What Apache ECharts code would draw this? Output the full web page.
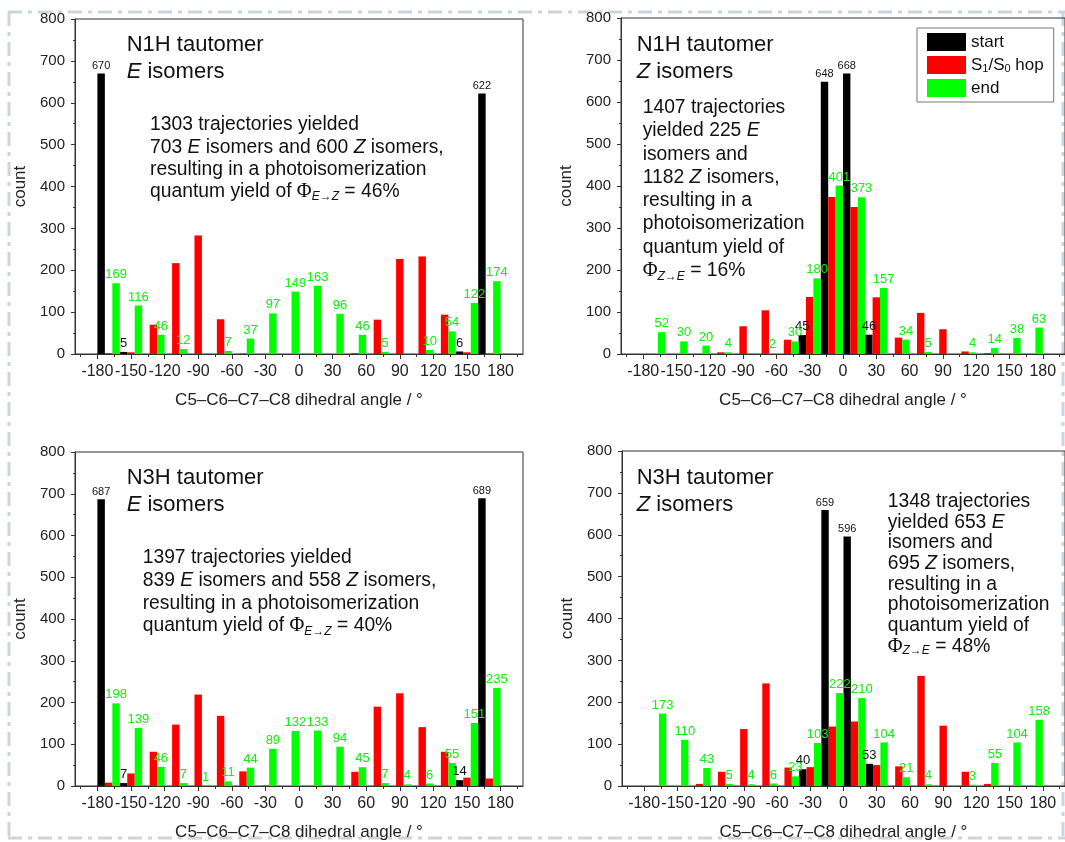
<!DOCTYPE html>
<html><head><meta charset="utf-8">
<script src="https://cdn.jsdelivr.net/npm/echarts@6/dist/echarts.min.js"></script>
<style>html,body{margin:0;padding:0;background:#fff}#c{width:1065px;height:842px}</style>
</head><body><div id="c"></div>
<script>
// ---- data ----
const binCenters = [-170,-150,-130,-110,-90,-70,-50,-30,-10,10,30,50,70,90,110,130,150,170];
const xTickLabels = [-180,-150,-120,-90,-60,-30,0,30,60,90,120,150,180];
const xMinorTicks = [-195,-165,-135,-105,-75,-45,-15,15,45,75,105,135,165,195];
const seriesNames = ['start','S1/S0 hop','end'];

const n1hE_start = [670,5,0,0,0,0,0,0,0,0,0,0,0,0,0,0,6,622];
const n1hE_hop   = [2,4,70,217,283,83,1,0,0,0,0,2,82,227,233,94,4,1];
const n1hE_end   = [169,116,46,12,0,7,37,97,149,163,96,46,5,0,10,54,122,174];

const n1hZ_start = [0,0,0,0,0,0,0,45,648,668,46,0,0,0,0,0,0,0];
const n1hZ_hop   = [0,0,0,4,66,104,34,136,374,350,135,39,98,59,6,2,0,0];
const n1hZ_end   = [52,30,20,4,0,2,30,180,401,373,157,34,5,0,4,14,38,63];

const n3hE_start = [687,7,0,0,0,0,0,0,0,0,0,0,0,0,0,0,14,689];
const n3hE_hop   = [8,30,82,147,219,168,35,1,0,0,0,34,190,222,141,82,20,18];
const n3hE_end   = [198,139,46,7,1,11,44,89,132,133,94,45,7,4,6,55,151,235];

const n3hZ_start = [0,0,0,0,0,0,0,40,659,596,53,0,0,0,0,0,0,0];
const n3hZ_hop   = [0,0,5,34,136,245,44,45,142,154,50,47,263,144,34,5,0,0];
const n3hZ_end   = [173,110,43,5,4,6,23,103,222,210,104,21,4,0,3,55,104,158];

const panelData = [
  [n1hE_start, n1hE_hop, n1hE_end],
  [n1hZ_start, n1hZ_hop, n1hZ_end],
  [n3hE_start, n3hE_hop, n3hE_end],
  [n3hZ_start, n3hZ_hop, n3hZ_end]
];

// ---- layout / style ----
const FONT = 'Liberation Sans, Arial, Helvetica, sans-serif';
const colors = ['#000000','#ff0000','#00ff00'];
const labelColors = ['#111111', null, '#11ee11'];
const grids = [
  {left:75,  top:19,  width:448, height:335},
  {left:621, top:18,  width:448, height:336},
  {left:75,  top:452, width:448, height:336},
  {left:622, top:451, width:448, height:337}
];

const axisColor = '#333';
const xAxes = [], yAxes = [], series = [];
grids.forEach((g, i) => {
  xAxes.push({
    type:'value', gridIndex:i, min:-200, max:200, position:'bottom',
    axisLine:{show:true, onZero:false, lineStyle:{color:axisColor, width:1}},
    axisTick:{show:true, customValues:xTickLabels, length:5, inside:false, lineStyle:{color:axisColor}},
    axisLabel:{show:true, customValues:xTickLabels, fontSize:16, color:'#222', margin:10, fontFamily:FONT},
    splitLine:{show:false},
    name:'C5–C6–C7–C8 dihedral angle / °', nameLocation:'middle', nameGap:38,
    nameTextStyle:{fontSize:17, color:'#222', fontFamily:FONT}
  });
  xAxes.push({
    type:'value', gridIndex:i, min:-200, max:200, position:'bottom',
    axisLine:{show:false, onZero:false},
    axisTick:{show:true, customValues:xMinorTicks, length:3, inside:false, lineStyle:{color:axisColor}},
    axisLabel:{show:false},
    splitLine:{show:false}
  });
  yAxes.push({
    type:'value', gridIndex:i, min:0, max:800, interval:100, position:'left',
    axisLine:{show:true, onZero:false, lineStyle:{color:axisColor, width:1}},
    axisTick:{show:true, length:4, lineStyle:{color:axisColor}},
    minorTick:{show:true, splitNumber:2, length:2, lineStyle:{color:axisColor}},
    axisLabel:{fontSize:15, color:'#222', margin:10, fontFamily:FONT},
    splitLine:{show:false}, minorSplitLine:{show:false},
    name:'count', nameLocation:'middle', nameGap:46, nameRotate:90,
    nameTextStyle:{fontSize:17, color:'#222', fontFamily:FONT}
  });
  panelData[i].forEach((vals, s) => {
    series.push({
      type:'bar', name:seriesNames[s], xAxisIndex:2*i, yAxisIndex:i,
      barGap:'0%', barCategoryGap:'0%',
      itemStyle:{color:colors[s]},
      data: vals.map((v,k) => ({
        value:[binCenters[k], v],
        label: s === 0 ? {fontSize: v >= 100 ? 11 : 13} : {}
      })),
      label:{
        show: s !== 1, position:'top', distance:2,
        color: labelColors[s] || '#000', fontSize:13, fontFamily:FONT,
        formatter: p => (p.value[1] ? String(p.value[1]) : '')
      }
    });
  });
});

// ---- annotation text ----
function rich(fs, lh) {
  return {
    n:{fontSize:fs, lineHeight:lh, fontFamily:FONT, fill:'#111'},
    i:{fontSize:fs, lineHeight:lh, fontFamily:FONT, fontStyle:'italic', fill:'#111'},
    phi:{fontSize:fs+1, lineHeight:lh, fontFamily:'Liberation Serif, DejaVu Serif, serif', fill:'#111'},
    sub:{fontSize:12, lineHeight:12, fontFamily:FONT, fontStyle:'italic', fill:'#111', verticalAlign:'bottom', padding:[10,0,0,0]}
  };
}
function txt(x, y, text, fs, lh) {
  return {type:'text', x:x, y:y, silent:true, z:10,
    style:{text:text, rich:rich(fs, lh), fontSize:fs, fontFamily:FONT, fill:'#111'}};
}
const texts = [
  txt(126.7, 31.7, '{n|N1H tautomer}\n{i|E}{n| isomers}', 22, 27),
  txt(150, 114, '{n|1303 trajectories yielded}\n{n|703 }{i|E}{n| isomers and 600 }{i|Z}{n| isomers,}\n{n|resulting in a photoisomerization}\n{n|quantum yield of }{phi|Φ}{sub|E→Z}{n| = 46%}', 19.3, 22.2),
  txt(636.7, 31.7, '{n|N1H tautomer}\n{i|Z}{n| isomers}', 22, 27),
  txt(642.7, 96, '{n|1407 trajectories}\n{n|yielded 225 }{i|E}\n{n|isomers and}\n{n|1182 }{i|Z}{n| isomers,}\n{n|resulting in a}\n{n|photoisomerization}\n{n|quantum yield of}\n{phi|Φ}{sub|Z→E}{n| = 16%}', 19.3, 23.3),
  txt(126.7, 464.7, '{n|N3H tautomer}\n{i|E}{n| isomers}', 22, 27),
  txt(142.7, 546, '{n|1397 trajectories yielded}\n{n|839 }{i|E}{n| isomers and 558 }{i|Z}{n| isomers,}\n{n|resulting in a photoisomerization}\n{n|quantum yield of }{phi|Φ}{sub|E→Z}{n| = 40%}', 19.3, 22.9),
  txt(636.7, 464.7, '{n|N3H tautomer}\n{i|Z}{n| isomers}', 22, 27),
  txt(887.7, 491.3, '{n|1348 trajectories}\n{n|yielded 653 }{i|E}\n{n|isomers and}\n{n|695 }{i|Z}{n| isomers,}\n{n|resulting in a}\n{n|photoisomerization}\n{n|quantum yield of}\n{phi|Φ}{sub|Z→E}{n| = 48%}', 19.3, 20.7)
];

// ---- decorative dash-dot page frame ----
function dashLine(x1,y1,x2,y2){
  return {type:'line', silent:true, z:-1, shape:{x1:x1,y1:y1,x2:x2,y2:y2},
    style:{stroke:'#cbd5de', lineWidth:3, lineDash:[14,6,4,6]}};
}
const frame = [
  dashLine(8,12,1065,12),
  dashLine(9,12,9,840),
  dashLine(8,838,1065,838),
  dashLine(1063,12,1063,840)
];

const chart = echarts.init(document.getElementById('c'), null, {renderer:'canvas'});
chart.setOption({
  animation:false,
  backgroundColor:'#ffffff',
  textStyle:{fontFamily:FONT},
  grid: grids.map(g => Object.assign({show:true, borderColor:axisColor, borderWidth:1, backgroundColor:'transparent', containLabel:false}, g)),
  xAxis: xAxes,
  yAxis: yAxes,
  legend:{
    data:seriesNames, orient:'vertical', left:917, top:28,
    icon:'rect', itemWidth:39, itemHeight:18, itemGap:5,
    backgroundColor:'#fff', borderColor:'#777', borderWidth:1, padding:[5,10,5,10],
    formatter: name => name === 'S1/S0 hop' ? '{a|S}{s|1}{a|/S}{s|0}{a| hop}' : '{a|' + name + '}',
    textStyle:{color:'#111', fontSize:17, fontFamily:FONT,
      rich:{a:{fontSize:17, fontFamily:FONT, color:'#111', lineHeight:18},
            s:{fontSize:11, fontFamily:FONT, color:'#111', verticalAlign:'bottom', lineHeight:8, padding:[6,0,0,0]}}}
  },
  graphic: frame.concat(texts),
  series: series
});
</script>
</body></html>
